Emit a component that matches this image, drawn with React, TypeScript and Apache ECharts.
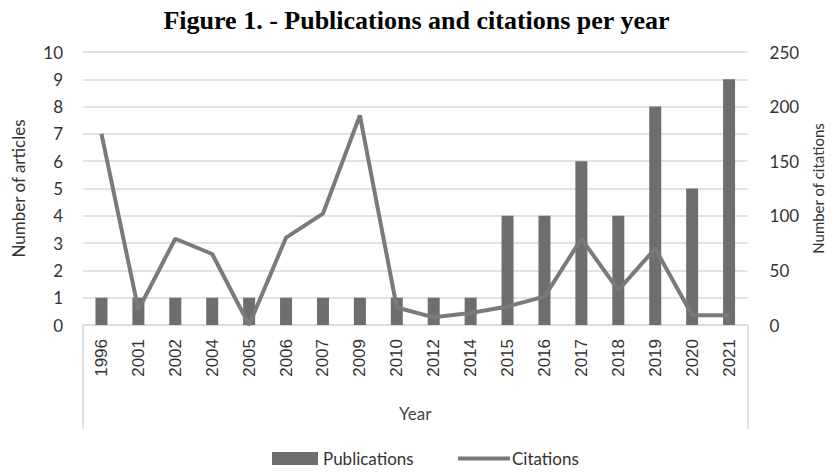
import React, { useEffect, useRef } from "react";
import * as echarts from "echarts";

const years = ["1996","2001","2002","2004","2005","2006","2007","2009","2010","2012","2014","2015","2016","2017","2018","2019","2020","2021"];
const publications = [1,1,1,1,1,1,1,1,1,1,1,4,4,6,4,8,5,9];
const citations = [175,14,79,65,0,80,102,192,16,7,11,17,26,79,32,70,9,9];
const leftTicks = [0, 10, 1];
const rightTicks = [0, 250, 50];

const GRID_LEFT = 83;
const GRID_RIGHT = 85;
const GRID_TOP = 52;
const GRID_BOTTOM = 147;
const W = 833;
const H = 472;

export default function App() {
  const ref = useRef<HTMLDivElement>(null);
  useEffect(() => {
    if (!ref.current) return;
    const chart = echarts.init(ref.current, undefined, { renderer: "svg" });
    const sans = "Lato";
    const baseY = H - GRID_BOTTOM;
    const barColor = "#6e6e6e";
    const lineColor = "#7a7a7a";
    chart.setOption({
      animation: false,
      backgroundColor: "#ffffff",
      title: {
        text: "Figure 1. - Publications and citations per year",
        left: "center",
        top: 2,
        textStyle: { fontFamily: "Liberation Serif", fontWeight: "bold", fontSize: 26, color: "#000" },
      },
      grid: { left: GRID_LEFT, right: GRID_RIGHT, top: GRID_TOP, bottom: GRID_BOTTOM },
      legend: [
        {
          top: 445,
          left: 267,
          itemWidth: 46,
          itemHeight: 13,
          textStyle: { fontFamily: sans, fontSize: 17, color: "#333" },
          data: [{ name: "Publications", icon: "rect" }],
        },
        {
          top: 445,
          left: 453,
          itemWidth: 52,
          itemHeight: 4,
          itemGap: 2,
          textStyle: { fontFamily: sans, fontSize: 17, color: "#333", padding: [0, 0, 0, -3] },
          data: [{ name: "Citations", icon: "rect", itemStyle: { color: lineColor } }],
        },
      ],
      xAxis: {
        type: "category",
        data: years,
        name: "Year",
        nameLocation: "middle",
        nameGap: 80,
        nameTextStyle: { fontFamily: sans, fontSize: 17, color: "#444" },
        axisLine: { lineStyle: { color: "#d9d9d9", width: 1.5 } },
        axisTick: { show: false },
        axisLabel: { rotate: 90, fontFamily: "Liberation Sans", fontSize: 17, color: "#333", margin: 14 },
      },
      yAxis: [
        {
          type: "value",
          min: leftTicks[0],
          max: leftTicks[1],
          interval: leftTicks[2],
          name: "Number of articles",
          nameLocation: "middle",
          nameGap: 56,
          nameTextStyle: { fontFamily: sans, fontSize: 17, color: "#333" },
          axisLine: { show: false },
          axisTick: { show: false },
          axisLabel: { fontFamily: sans, fontSize: 17, color: "#333", margin: 20 },
          splitLine: { lineStyle: { color: "#d9d9d9", width: 1.5 } },
        },
        {
          type: "value",
          min: rightTicks[0],
          max: rightTicks[1],
          interval: rightTicks[2],
          name: "Number of citations",
          nameLocation: "middle",
          nameRotate: 90,
          nameGap: 57,
          nameTextStyle: { fontFamily: sans, fontSize: 15, color: "#333" },
          axisLine: { show: false },
          axisTick: { show: false },
          axisLabel: { fontFamily: sans, fontSize: 17, color: "#333", margin: 22 },
          splitLine: { show: false },
        },
      ],
      series: [
        {
          name: "Publications",
          type: "bar",
          data: publications,
          barWidth: 12,
          itemStyle: { color: barColor },
          yAxisIndex: 0,
        },
        {
          name: "Citations",
          type: "line",
          data: citations,
          yAxisIndex: 1,
          symbol: "none",
          lineStyle: { color: lineColor, width: 4 },
          itemStyle: { color: lineColor },
        },
      ],
      graphic: [
        {
          type: "line",
          shape: { x1: GRID_LEFT, y1: baseY, x2: GRID_LEFT, y2: baseY + 104 },
          style: { stroke: "#d9d9d9", lineWidth: 1.5 },
        },
        {
          type: "line",
          shape: { x1: W - GRID_RIGHT, y1: baseY, x2: W - GRID_RIGHT, y2: baseY + 104 },
          style: { stroke: "#d9d9d9", lineWidth: 1.5 },
        },
      ],
    });
    return () => chart.dispose();
  }, []);
  return <div ref={ref} style={{ width: W, height: H, position: "absolute", left: 0, top: 0 }} />;
}
